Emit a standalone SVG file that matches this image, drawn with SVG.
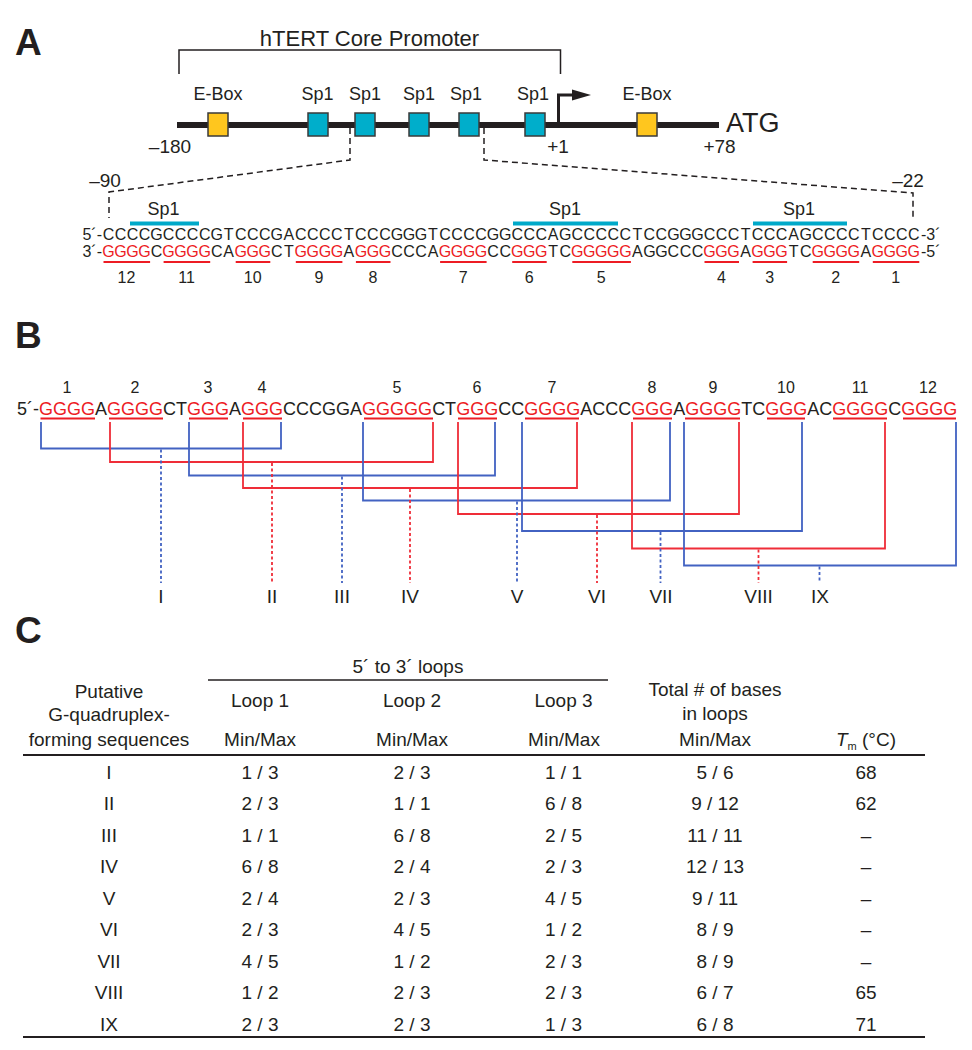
<svg xmlns="http://www.w3.org/2000/svg" width="972" height="1050" viewBox="0 0 972 1050">
<style>
text{font-family:"Liberation Sans",Arial,sans-serif;fill:#231f20}
.panel{font-weight:bold;font-size:37px}
.c{text-anchor:middle}
.r{fill:#ed1c24}
.lab{font-size:18px}
.seqA{font-size:16px;text-anchor:middle}
.num{font-size:16px;text-anchor:middle}
.tb{font-size:19px;text-anchor:middle}
.k{stroke:#231f20;fill:none}
.dash{stroke:#231f20;fill:none;stroke-width:1.5;stroke-dasharray:6 4}
.ul{stroke:#ed1c24;stroke-width:2}
.sp{stroke:#00a9c9;stroke-width:4}
.box{stroke:#3a3a3a;stroke-width:1.5}
.eb{fill:#ffc61e}
.sb{fill:#00aecb}
.bl{stroke:#4262c2;stroke-width:1.8;fill:none}
.rd{stroke:#ef2d38;stroke-width:1.8;fill:none}
.bld{stroke:#4262c2;stroke-width:1.8;stroke-dasharray:3 2.5}
.rdd{stroke:#ef2d38;stroke-width:1.8;stroke-dasharray:3 2.5}
</style>

<g id="panelA">
<text class="panel" x="15" y="55">A</text>
<text x="369.5" y="46" class="c" font-size="22">hTERT Core Promoter</text>
<path class="k" stroke-width="1.5" d="M179,74 V50 H560.5 V74"/>
<line x1="177" y1="125" x2="719" y2="125" stroke="#231f20" stroke-width="6"/>
<g id="ebox1"><rect class="box eb" x="208" y="113" width="20" height="23"/><text class="lab c" x="218" y="100">E-Box</text></g>
<g id="sp1a"><rect class="box sb" x="308" y="113" width="20" height="23"/><text class="lab c" x="317.5" y="100">Sp1</text></g>
<g id="sp1b"><rect class="box sb" x="355" y="113" width="20" height="23"/><text class="lab c" x="365" y="100">Sp1</text></g>
<g id="sp1c"><rect class="box sb" x="409" y="113" width="20" height="23"/><text class="lab c" x="419" y="100">Sp1</text></g>
<g id="sp1d"><rect class="box sb" x="459" y="113" width="20" height="23"/><text class="lab c" x="466" y="100">Sp1</text></g>
<g id="sp1e"><rect class="box sb" x="525" y="113" width="20" height="23"/><text class="lab c" x="533" y="100">Sp1</text></g>
<g id="ebox2"><rect class="box eb" x="637" y="113" width="20" height="23"/><text class="lab c" x="647" y="100">E-Box</text></g>
<path class="k" stroke-width="3" d="M558.5,123 V95 H576"/>
<polygon points="572,89.5 591,95 572,100.5" fill="#231f20"/>
<text class="c" font-size="19" x="170" y="153">–180</text>
<text class="c" font-size="19" x="558" y="153">+1</text>
<text class="c" font-size="19" x="719.5" y="153">+78</text>
<text x="726" y="132" font-size="27">ATG</text>
<path class="dash" d="M350,128 V160 L109,192 V218"/>
<path class="dash" d="M484,128 V160 L913,193 V219"/>
<text class="c" font-size="19" x="105" y="187">–90</text>
<text class="c" font-size="19" x="908" y="187">–22</text>

<line class="sp" x1="130" y1="223.5" x2="199" y2="223.5"/>
<line class="sp" x1="513" y1="223.5" x2="618" y2="223.5"/>
<line class="sp" x1="753" y1="223.5" x2="847" y2="223.5"/>
<text class="c" font-size="18" x="163.5" y="215">Sp1</text>
<text class="c" font-size="18" x="565" y="215">Sp1</text>
<text class="c" font-size="18" x="799" y="215">Sp1</text>

<text font-size="16" x="102" y="240" text-anchor="end">5´-</text>
<text font-size="16" x="921" y="240">-3´</text>
<text font-size="16" x="102" y="257" text-anchor="end">3´-</text>
<text font-size="16" x="921" y="257">-5´</text>
<text class="seqA" y="240" x="108.5 120.5 132.5 144.6 156.6 168.6 180.6 192.6 204.7 216.7 228.7 240.7 252.7 264.8 276.8 288.8 300.8 312.8 324.9 336.9 348.9 360.9 372.9 385.0 397.0 409.0 421.0 433.0 445.1 457.1 469.1 481.1 493.1 505.2 517.2 529.2 541.2 553.2 565.3 577.3 589.3 601.3 613.3 625.4 637.4 649.4 661.4 673.4 685.5 697.5 709.5 721.5 733.5 745.6 757.6 769.6 781.6 793.6 805.7 817.7 829.7 841.7 853.7 865.8 877.8 889.8 901.8 913.8">CCCCGCCCCGTCCCGACCCCTCCCGGGTCCCCGGCCCAGCCCCCTCCGGGCCCTCCCAGCCCCTCCCC</text>
<text class="seqA" y="257" x="108.5 120.5 132.5 144.6 156.6 168.6 180.6 192.6 204.7 216.7 228.7 240.7 252.7 264.8 276.8 288.8 300.8 312.8 324.9 336.9 348.9 360.9 372.9 385.0 397.0 409.0 421.0 433.0 445.1 457.1 469.1 481.1 493.1 505.2 517.2 529.2 541.2 553.2 565.3 577.3 589.3 601.3 613.3 625.4 637.4 649.4 661.4 673.4 685.5 697.5 709.5 721.5 733.5 745.6 757.6 769.6 781.6 793.6 805.7 817.7 829.7 841.7 853.7 865.8 877.8 889.8 901.8 913.8"><tspan class="r">GGGG</tspan>C<tspan class="r">GGGG</tspan>CA<tspan class="r">GGG</tspan>CT<tspan class="r">GGGG</tspan>A<tspan class="r">GGG</tspan>CCCA<tspan class="r">GGGG</tspan>CC<tspan class="r">GGG</tspan>TC<tspan class="r">GGGGG</tspan>AGGCCC<tspan class="r">GGG</tspan>A<tspan class="r">GGG</tspan>TC<tspan class="r">GGGG</tspan>A<tspan class="r">GGGG</tspan></text>
<g>
<line class="ul" x1="103.5" y1="262" x2="150.1" y2="262"/>
<line class="ul" x1="163.6" y1="262" x2="210.2" y2="262"/>
<line class="ul" x1="235.7" y1="262" x2="270.3" y2="262"/>
<line class="ul" x1="295.8" y1="262" x2="342.4" y2="262"/>
<line class="ul" x1="355.9" y1="262" x2="390.5" y2="262"/>
<line class="ul" x1="440.1" y1="262" x2="486.6" y2="262"/>
<line class="ul" x1="512.2" y1="262" x2="546.7" y2="262"/>
<line class="ul" x1="572.3" y1="262" x2="630.9" y2="262"/>
<line class="ul" x1="704.5" y1="262" x2="739.0" y2="262"/>
<line class="ul" x1="752.6" y1="262" x2="787.1" y2="262"/>
<line class="ul" x1="812.7" y1="262" x2="859.2" y2="262"/>
<line class="ul" x1="872.8" y1="262" x2="919.3" y2="262"/>
</g>
<text class="num" x="126.5" y="283">12</text>
<text class="num" x="186.6" y="283">11</text>
<text class="num" x="252.7" y="283">10</text>
<text class="num" x="318.9" y="283">9</text>
<text class="num" x="372.9" y="283">8</text>
<text class="num" x="463.1" y="283">7</text>
<text class="num" x="529.2" y="283">6</text>
<text class="num" x="601.3" y="283">5</text>
<text class="num" x="721.5" y="283">4</text>
<text class="num" x="769.6" y="283">3</text>
<text class="num" x="835.7" y="283">2</text>
<text class="num" x="895.8" y="283">1</text>
</g>

<g id="panelB">
<text class="panel" x="15" y="348">B</text>
<text class="num" x="67" y="393">1</text>
<text class="num" x="135" y="393">2</text>
<text class="num" x="208" y="393">3</text>
<text class="num" x="262" y="393">4</text>
<text class="num" x="397" y="393">5</text>
<text class="num" x="477" y="393">6</text>
<text class="num" x="552" y="393">7</text>
<text class="num" x="652" y="393">8</text>
<text class="num" x="713" y="393">9</text>
<text class="num" x="786" y="393">10</text>
<text class="num" x="860" y="393">11</text>
<text class="num" x="928" y="393">12</text>
<text x="17" y="415" font-size="18">5´-<tspan class="r">GGGG</tspan>A<tspan class="r">GGGG</tspan>CT<tspan class="r">GGG</tspan>A<tspan class="r">GGG</tspan>CCCGGA<tspan class="r">GGGGG</tspan>CT<tspan class="r">GGG</tspan>CC<tspan class="r">GGGG</tspan>ACCC<tspan class="r">GGG</tspan>A<tspan class="r">GGGG</tspan>TC<tspan class="r">GGG</tspan>AC<tspan class="r">GGGG</tspan>C<tspan class="r">GGGG</tspan></text>
<g>
<line class="ul" x1="40.5" y1="418.5" x2="95" y2="418.5"/>
<line class="ul" x1="109" y1="418.5" x2="163" y2="418.5"/>
<line class="ul" x1="189" y1="418.5" x2="228" y2="418.5"/>
<line class="ul" x1="243" y1="418.5" x2="282" y2="418.5"/>
<line class="ul" x1="364" y1="418.5" x2="433" y2="418.5"/>
<line class="ul" x1="458" y1="418.5" x2="497" y2="418.5"/>
<line class="ul" x1="525" y1="418.5" x2="579" y2="418.5"/>
<line class="ul" x1="633" y1="418.5" x2="672" y2="418.5"/>
<line class="ul" x1="685" y1="418.5" x2="740" y2="418.5"/>
<line class="ul" x1="767" y1="418.5" x2="805" y2="418.5"/>
<line class="ul" x1="833" y1="418.5" x2="887" y2="418.5"/>
<line class="ul" x1="903" y1="418.5" x2="956" y2="418.5"/>
</g>
</g>

<g id="connectors">
<path class="bl" d="M41,422 V448.5 H281 V422"/>
<path class="rd" d="M110,422 V462 H433 V422"/>
<path class="bl" d="M189,422 V475.5 H495 V422"/>
<path class="rd" d="M243,422 V488 H577 V422"/>
<path class="bl" d="M363,422 V500.5 H670 V422"/>
<path class="rd" d="M458,422 V514 H739 V422"/>
<path class="bl" d="M522,422 V531 H802 V422"/>
<path class="rd" d="M632,422 V548.5 H885 V422"/>
<path class="bl" d="M684,422 V565.5 H956 V422"/>
<line class="bld" x1="161" y1="449.5" x2="161" y2="583"/>
<line class="rdd" x1="272" y1="463" x2="272" y2="583"/>
<line class="bld" x1="342" y1="476.5" x2="342" y2="583"/>
<line class="rdd" x1="410" y1="489" x2="410" y2="583"/>
<line class="bld" x1="517" y1="501.5" x2="517" y2="583"/>
<line class="rdd" x1="597" y1="515" x2="597" y2="583"/>
<line class="bld" x1="660.5" y1="532" x2="660.5" y2="583"/>
<line class="rdd" x1="758.5" y1="549.5" x2="758.5" y2="583"/>
<line class="bld" x1="819.5" y1="566.5" x2="819.5" y2="583"/>
</g>

<g id="romanLabels">
<text class="c" x="161" y="603" font-size="19">I</text>
<text class="c" x="272" y="603" font-size="19">II</text>
<text class="c" x="342" y="603" font-size="19">III</text>
<text class="c" x="410" y="603" font-size="19">IV</text>
<text class="c" x="517" y="603" font-size="19">V</text>
<text class="c" x="597" y="603" font-size="19">VI</text>
<text class="c" x="661" y="603" font-size="19">VII</text>
<text class="c" x="758.5" y="603" font-size="19">VIII</text>
<text class="c" x="820" y="603" font-size="19">IX</text>
</g>

<g id="panelC">
<text class="panel" x="15" y="643">C</text>
<text class="tb" x="408" y="673">5´ to 3´ loops</text>
<line x1="208" y1="680" x2="608" y2="680" stroke="#231f20" stroke-width="1.5"/>
<text class="tb" x="109" y="698">Putative</text>
<text class="tb" x="109" y="721">G-quadruplex-</text>
<text class="tb" x="109" y="745.5">forming sequences</text>
<text class="tb" x="260" y="707">Loop 1</text>
<text class="tb" x="412" y="707">Loop 2</text>
<text class="tb" x="563.5" y="707">Loop 3</text>
<text class="tb" x="715" y="696">Total # of bases</text>
<text class="tb" x="715" y="720">in loops</text>
<text class="tb" x="260" y="746">Min/Max</text>
<text class="tb" x="412" y="746">Min/Max</text>
<text class="tb" x="564" y="746">Min/Max</text>
<text class="tb" x="715" y="746">Min/Max</text>
<text class="tb" x="866" y="746"><tspan font-style="italic">T</tspan><tspan font-size="11" dy="4">m</tspan><tspan dy="-4"> (°C)</tspan></text>
<line x1="23" y1="755" x2="925" y2="755" stroke="#231f20" stroke-width="2"/>
<line x1="23" y1="1037" x2="925" y2="1037" stroke="#231f20" stroke-width="2"/>

<g class="row"><text class="tb" x="109" y="778.5">I</text><text class="tb" x="260" y="778.5">1 / 3</text><text class="tb" x="412" y="778.5">2 / 3</text><text class="tb" x="563.5" y="778.5">1 / 1</text><text class="tb" x="715" y="778.5">5 / 6</text><text class="tb" x="866" y="778.5">68</text></g>
<g class="row"><text class="tb" x="109" y="810">II</text><text class="tb" x="260" y="810">2 / 3</text><text class="tb" x="412" y="810">1 / 1</text><text class="tb" x="563.5" y="810">6 / 8</text><text class="tb" x="715" y="810">9 / 12</text><text class="tb" x="866" y="810">62</text></g>
<g class="row"><text class="tb" x="109" y="841.5">III</text><text class="tb" x="260" y="841.5">1 / 1</text><text class="tb" x="412" y="841.5">6 / 8</text><text class="tb" x="563.5" y="841.5">2 / 5</text><text class="tb" x="715" y="841.5">11 / 11</text><text class="tb" x="866" y="841.5">–</text></g>
<g class="row"><text class="tb" x="109" y="873">IV</text><text class="tb" x="260" y="873">6 / 8</text><text class="tb" x="412" y="873">2 / 4</text><text class="tb" x="563.5" y="873">2 / 3</text><text class="tb" x="715" y="873">12 / 13</text><text class="tb" x="866" y="873">–</text></g>
<g class="row"><text class="tb" x="109" y="904.5">V</text><text class="tb" x="260" y="904.5">2 / 4</text><text class="tb" x="412" y="904.5">2 / 3</text><text class="tb" x="563.5" y="904.5">4 / 5</text><text class="tb" x="715" y="904.5">9 / 11</text><text class="tb" x="866" y="904.5">–</text></g>
<g class="row"><text class="tb" x="109" y="936">VI</text><text class="tb" x="260" y="936">2 / 3</text><text class="tb" x="412" y="936">4 / 5</text><text class="tb" x="563.5" y="936">1 / 2</text><text class="tb" x="715" y="936">8 / 9</text><text class="tb" x="866" y="936">–</text></g>
<g class="row"><text class="tb" x="109" y="967.5">VII</text><text class="tb" x="260" y="967.5">4 / 5</text><text class="tb" x="412" y="967.5">1 / 2</text><text class="tb" x="563.5" y="967.5">2 / 3</text><text class="tb" x="715" y="967.5">8 / 9</text><text class="tb" x="866" y="967.5">–</text></g>
<g class="row"><text class="tb" x="109" y="999">VIII</text><text class="tb" x="260" y="999">1 / 2</text><text class="tb" x="412" y="999">2 / 3</text><text class="tb" x="563.5" y="999">2 / 3</text><text class="tb" x="715" y="999">6 / 7</text><text class="tb" x="866" y="999">65</text></g>
<g class="row"><text class="tb" x="109" y="1030.5">IX</text><text class="tb" x="260" y="1030.5">2 / 3</text><text class="tb" x="412" y="1030.5">2 / 3</text><text class="tb" x="563.5" y="1030.5">1 / 3</text><text class="tb" x="715" y="1030.5">6 / 8</text><text class="tb" x="866" y="1030.5">71</text></g>
</g>
</svg>
